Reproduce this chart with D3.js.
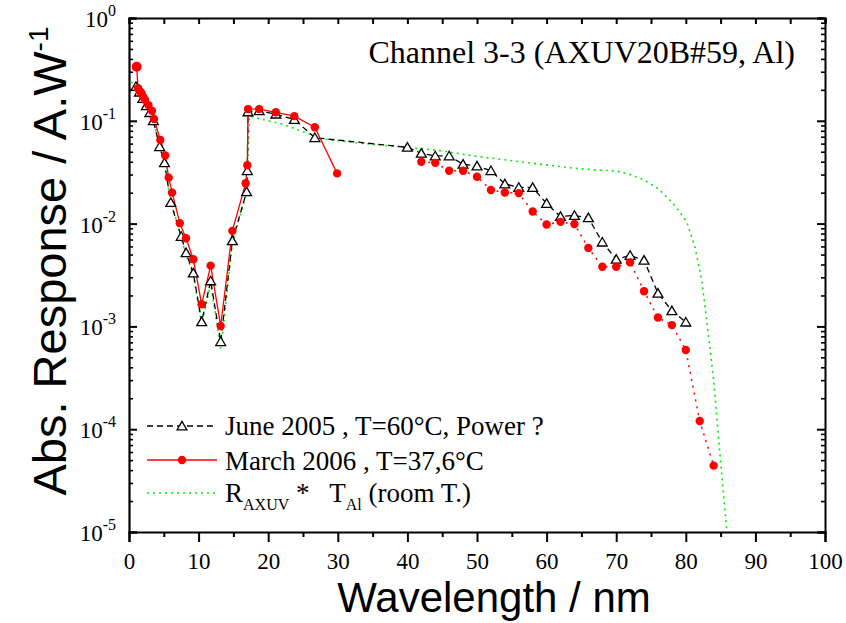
<!DOCTYPE html>
<html>
<head>
<meta charset="utf-8">
<script src="https://cdn.jsdelivr.net/npm/d3@7"></script>
<style>
  body { margin: 0; background: #fff; }
  svg { display: block; }
</style>
</head>
<body>
<svg id="chart" width="846" height="623"></svg>
<script>
var width = 846, height = 623;
var serif = "'Liberation Serif', 'Times New Roman', Times, serif";
var sans = "'Liberation Sans', Arial, Helvetica, sans-serif";

// June 2005 (black dashed, open triangles)
var juneX = [1.0, 1.5, 2.0, 2.5, 3.0, 3.5, 4.4, 5.1, 6.0, 7.5, 8.2, 9.24, 10.44, 11.73, 13.17, 14.85, 16.9, 17.0, 17.1,
             18.7, 21.1, 23.75, 26.7, 40.0, 42.0, 44.0, 46.0, 48.0, 50.0, 52.0, 54.0, 56.0, 58.0, 60.0, 62.0, 64.0,
             66.0, 68.0, 70.0, 72.0, 74.0, 76.0, 78.0, 80.0];
var juneY = [0.215, 0.19, 0.165, 0.14, 0.12, 0.1, 0.056, 0.039, 0.016, 0.0075, 0.0052, 0.0033, 0.00111, 0.00277, 0.00071, 0.0068, 0.0204, 0.0327, 0.122,
             0.125, 0.116, 0.103, 0.0685, 0.0552, 0.0483, 0.0455, 0.0455, 0.0377, 0.0363, 0.0327, 0.0243, 0.0225, 0.0224, 0.0157, 0.0117, 0.012,
             0.0114, 0.0066, 0.0045, 0.0049, 0.0044, 0.0021, 0.00142, 0.0011];

// March 2006 (red solid, filled circles)
var marchX = [1.1, 1.3, 1.55, 1.8, 2.05, 2.3, 2.8, 3.3, 3.6, 4.5, 5.2, 5.7, 6.2, 7.3, 8.19, 9.24, 10.44, 11.73, 13.17, 14.85, 16.76, 17.0, 17.1,
              18.7, 21.1, 23.75, 26.7, 29.9];
var marchY = [0.336, 0.207, 0.195, 0.185, 0.17, 0.16, 0.142, 0.125, 0.104, 0.065, 0.046, 0.028, 0.020, 0.0101, 0.0072, 0.0045, 0.00164, 0.0039, 0.00101, 0.0085, 0.0247, 0.037, 0.130,
              0.130, 0.121, 0.111, 0.0865, 0.0308];

// March 2006, long wavelength part (red dotted)
var marchLateX = [42.0, 44.0, 46.0, 48.0, 50.0, 52.0, 54.0, 56.0, 58.0, 60.0, 62.0, 64.0, 66.0, 68.0, 70.0, 72.0, 74.0, 76.0, 78.0, 80.0, 82.0, 84.0];
var marchLateY = [0.040, 0.039, 0.0327, 0.0327, 0.0286, 0.0212, 0.0201, 0.0198, 0.0131, 0.0098, 0.0104, 0.0099, 0.0058, 0.0038, 0.0038, 0.0042, 0.0022, 0.00122, 0.00103, 0.00059, 0.00012, 0.0000442];

// R_AXUV * T_Al (green dotted)
var modelX = [0.3, 1.0, 2.0, 3.0, 4.0, 5.0, 6.0, 7.5, 8.2, 9.24, 10.44, 11.73, 13.2, 14.85, 16.9, 17.05, 17.3, 18.0, 20.0, 22.0, 24.0, 26.0, 27.5,
              30.0, 35.0, 40.0, 44.0, 50.0, 57.0, 64.0, 68.0, 70.0, 72.0, 74.0, 76.0, 78.2, 80.1, 81.3, 82.3, 83.0, 84.0, 84.9, 85.9];
var modelY = [0.24, 0.215, 0.165, 0.12, 0.075, 0.042, 0.017, 0.0072, 0.005, 0.0032, 0.00105, 0.0026, 0.0006, 0.0064, 0.02, 0.032, 0.111, 0.108, 0.1, 0.093, 0.083, 0.074, 0.067,
              0.064, 0.059, 0.055, 0.052, 0.045, 0.0394, 0.0345, 0.033, 0.0325, 0.03, 0.0266, 0.022, 0.0157, 0.0105, 0.006, 0.0028, 0.00115, 0.0003, 0.000058, 0.00001];

var xTicks = d3.range(0, 101, 10);
var yTicks = [1e-5, 1e-4, 1e-3, 1e-2, 1e-1, 1];
var title = "Channel 3-3 (AXUV20B#59, Al)";

var x = d3.scaleLinear().domain([0, 100]).range([129, 825]);
var y = d3.scaleLog().domain([1e-5, 1]).range([532, 18]);

var svg = d3.select("#chart");

function zip(xs, ys) { return xs.map(function(v, i) { return [v, ys[i]]; }); }

svg.append("defs").append("clipPath").attr("id", "plotclip")
    .append("rect").attr("x", x(0)).attr("y", y(1)).attr("width", x(100) - x(0)).attr("height", y(1e-5) - y(1));

// minor ticks for the log axis
var yMinor = [];
for (var e = -5; e < 0; e++) for (var m = 2; m <= 9; m++) yMinor.push(m * Math.pow(10, e));
var xMinor = d3.range(5, 100, 10);

// bottom axis: ticks outward
svg.append("g").attr("transform", "translate(0," + y(1e-5) + ")")
    .call(d3.axisBottom(x).tickValues(xTicks).tickSize(10).tickPadding(11).tickFormat(d3.format("d")))
    .call(function(g) {
      g.attr("font-family", serif).attr("font-size", 23);
      g.select(".domain").attr("stroke-width", 2.2);
      g.selectAll(".tick line").attr("stroke-width", 2);
      g.selectAll(".tick text").attr("font-family", serif).attr("font-size", 23).attr("fill", "#000");
    });
svg.append("g").attr("transform", "translate(0," + y(1e-5) + ")")
    .call(d3.axisBottom(x).tickValues(xMinor).tickSize(5).tickFormat(""))
    .call(function(g) { g.select(".domain").remove(); g.selectAll(".tick line").attr("stroke-width", 2); });

// top axis: ticks inward
svg.append("g").attr("transform", "translate(0," + y(1) + ")")
    .call(d3.axisBottom(x).tickValues(xTicks.concat(xMinor)).tickSize(6).tickFormat(""))
    .call(function(g) { g.select(".domain").attr("stroke-width", 2); g.selectAll(".tick line").attr("stroke-width", 2); });

// left axis: ticks inward
svg.append("g").attr("transform", "translate(" + x(0) + ",0)")
    .call(d3.axisRight(y).tickValues(yTicks).tickSize(8).tickFormat(""))
    .call(function(g) { g.select(".domain").attr("stroke-width", 2.2); g.selectAll(".tick line").attr("stroke-width", 2); });
svg.append("g").attr("transform", "translate(" + x(0) + ",0)")
    .call(d3.axisRight(y).tickValues(yMinor).tickSize(4).tickFormat(""))
    .call(function(g) { g.select(".domain").remove(); g.selectAll(".tick line").attr("stroke-width", 1.6); });

// right axis: ticks inward
svg.append("g").attr("transform", "translate(" + x(100) + ",0)")
    .call(d3.axisLeft(y).tickValues(yTicks).tickSize(8).tickFormat(""))
    .call(function(g) { g.select(".domain").attr("stroke-width", 2); g.selectAll(".tick line").attr("stroke-width", 2); });
svg.append("g").attr("transform", "translate(" + x(100) + ",0)")
    .call(d3.axisLeft(y).tickValues(yMinor).tickSize(4).tickFormat(""))
    .call(function(g) { g.select(".domain").remove(); g.selectAll(".tick line").attr("stroke-width", 1.6); });

// y tick labels 10^n
var ylab = svg.append("g").attr("font-family", serif).attr("fill", "#000");
yTicks.forEach(function(v) {
  var t = ylab.append("text").attr("x", 116).attr("y", y(v) + 9).attr("text-anchor", "end").attr("font-size", 23);
  t.append("tspan").text("10");
  t.append("tspan").attr("dy", -11).attr("font-size", 16).text(Math.round(Math.log10(v)));
});

// series
var line = d3.line().x(function(d) { return x(d[0]); }).y(function(d) { return y(d[1]); });
var plot = svg.append("g").attr("clip-path", "url(#plotclip)");

plot.append("path").datum(zip(modelX, modelY)).attr("d", line)
    .attr("fill", "none").attr("stroke", "#00ee00").attr("stroke-width", 1.6).attr("stroke-dasharray", "2,4");

plot.append("path").datum(zip(juneX, juneY)).attr("d", line)
    .attr("fill", "none").attr("stroke", "#000").attr("stroke-width", 1.3).attr("stroke-dasharray", "6,4");

plot.append("path").datum(zip(marchX, marchY)).attr("d", line)
    .attr("fill", "none").attr("stroke", "#ff0000").attr("stroke-width", 1.3);
plot.append("path").datum(zip(marchLateX, marchLateY)).attr("d", line)
    .attr("fill", "none").attr("stroke", "#ff0000").attr("stroke-width", 1.5).attr("stroke-dasharray", "2,5");

var tri = d3.symbol().type(d3.symbolTriangle).size(42);
plot.selectAll(".tri").data(zip(juneX, juneY)).enter().append("path")
    .attr("d", tri).attr("transform", function(d) { return "translate(" + x(d[0]) + "," + (y(d[1]) + 1) + ")"; })
    .attr("fill", "#fff").attr("stroke", "#000").attr("stroke-width", 1.3);

plot.selectAll(".dot").data(zip(marchX, marchY).concat(zip(marchLateX, marchLateY))).enter().append("circle")
    .attr("cx", function(d) { return x(d[0]); }).attr("cy", function(d) { return y(d[1]); })
    .attr("r", function(d, i) { return i === 0 ? 5 : 4.2; }).attr("fill", "#ff0000");

// title
svg.append("text").attr("x", 795).attr("y", 63).attr("text-anchor", "end")
    .attr("font-family", serif).attr("font-size", 32).text(title);

// legend
var lg = svg.append("g").attr("font-family", serif).attr("font-size", 27);
var lx0 = 147, lx1 = 217, ltx = 225;
lg.append("line").attr("x1", lx0).attr("x2", lx1).attr("y1", 426).attr("y2", 426)
    .attr("stroke", "#000").attr("stroke-width", 1.3).attr("stroke-dasharray", "6,4");
lg.append("path").attr("d", tri).attr("transform", "translate(" + ((lx0 + lx1) / 2) + ",427)")
    .attr("fill", "#fff").attr("stroke", "#000").attr("stroke-width", 1.3);
lg.append("text").attr("x", ltx).attr("y", 435).text("June 2005 , T=60°C, Power ?");

lg.append("line").attr("x1", lx0).attr("x2", lx1).attr("y1", 460).attr("y2", 460)
    .attr("stroke", "#ff0000").attr("stroke-width", 1.3);
lg.append("circle").attr("cx", (lx0 + lx1) / 2).attr("cy", 460).attr("r", 4.2).attr("fill", "#ff0000");
lg.append("text").attr("x", ltx).attr("y", 470).text("March 2006 , T=37,6°C");

lg.append("line").attr("x1", lx0).attr("x2", lx1).attr("y1", 493).attr("y2", 493)
    .attr("stroke", "#00ee00").attr("stroke-width", 1.6).attr("stroke-dasharray", "2,4");
var t3 = lg.append("text").attr("x", ltx).attr("y", 502).attr("xml:space", "preserve");
t3.append("tspan").text("R");
t3.append("tspan").attr("dy", 8).attr("font-size", 16).text("AXUV");
t3.append("tspan").attr("dy", -8).text(" *   T");
t3.append("tspan").attr("dy", 8).attr("font-size", 16).text("Al");
t3.append("tspan").attr("dy", -8).text(" (room T.)");

// axis titles
svg.append("text").attr("x", 494).attr("y", 612).attr("text-anchor", "middle")
    .attr("font-family", sans).attr("font-size", 42).text("Wavelength / nm");

var yt = svg.append("text").attr("transform", "translate(66,261) rotate(-90)").attr("text-anchor", "middle")
    .attr("font-family", sans).attr("font-size", 47);
yt.append("tspan").text("Abs. Response / A.W");
yt.append("tspan").attr("dy", -18).attr("font-size", 28).text("-1");
</script>
</body>
</html>
